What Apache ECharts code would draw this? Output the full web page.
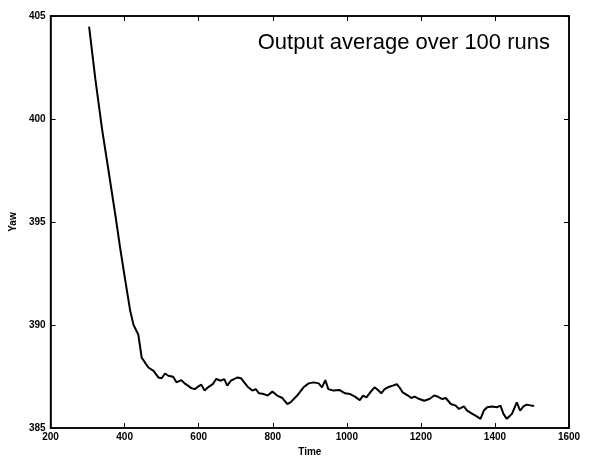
<!DOCTYPE html>
<html>
<head>
<meta charset="utf-8">
<title>Output average over 100 runs</title>
<script src="https://cdn.jsdelivr.net/npm/echarts@6/dist/echarts.min.js"></script>
<style>
  html, body { margin: 0; padding: 0; background: #fff; }
  #main { width: 589px; height: 462px; }
</style>
</head>
<body>
<div id="main"></div>
<script>
// time steps
var times = [304, 321, 339, 357, 375, 388, 402, 415, 424, 437,
  446, 464, 478, 491, 500, 509, 518, 531, 540, 553, 562, 571, 580, 589, 598, 607, 616, 625,
  638, 647, 660, 669, 677, 687, 705, 714, 723, 732, 745, 754, 763, 776, 786, 799, 812, 826,
  839, 848, 866, 883, 897, 910, 924, 933, 942, 950, 964, 980, 995, 1009, 1022, 1035, 1044,
  1053, 1067, 1075, 1084, 1093, 1102, 1111, 1124, 1135, 1142, 1151, 1165, 1174, 1183, 1196,
  1209, 1223, 1236, 1245, 1258, 1267, 1281, 1294, 1303, 1316, 1325, 1339, 1352, 1361, 1370,
  1379, 1392, 1405, 1415, 1423, 1432, 1446, 1459, 1468, 1477, 1486, 1499, 1506];
// yaw output averaged over 100 runs
var yaw = [404.48, 401.92, 399.51, 397.43, 395.33, 393.72, 392.13, 390.69, 390.01, 389.53,
  388.42, 387.94, 387.78, 387.46, 387.42, 387.65, 387.54, 387.49, 387.22, 387.33, 387.17,
  387.06, 386.94, 386.89, 387.01, 387.11, 386.82, 386.98, 387.13, 387.38, 387.30, 387.38,
  387.06, 387.30, 387.46, 387.42, 387.22, 387.01, 386.82, 386.89, 386.69, 386.65, 386.58,
  386.77, 386.58, 386.46, 386.17, 386.25, 386.58, 386.98, 387.17, 387.22, 387.17, 386.98,
  387.33, 386.89, 386.82, 386.85, 386.69, 386.65, 386.53, 386.36, 386.58, 386.49, 386.82,
  386.98, 386.85, 386.69, 386.89, 386.98, 387.06, 387.13, 386.98, 386.73, 386.58, 386.46,
  386.53, 386.41, 386.33, 386.41, 386.58, 386.53, 386.41, 386.46, 386.17, 386.09, 385.93,
  386.05, 385.85, 385.69, 385.56, 385.45, 385.85, 386.01, 386.05, 386.01, 386.09, 385.69,
  385.45, 385.69, 386.25, 385.85, 386.05, 386.14, 386.09, 386.09];
var xTicks = [200, 400, 600, 800, 1000, 1200, 1400, 1600];
var yTicks = [385, 390, 395, 400, 405];

var myChart = echarts.init(document.getElementById('main'));

var pts = [];
for (var i = 0; i < times.length; i++) {
    pts.push([times[i], yaw[i]]);
}

var lblStyle = { color: '#000', fontFamily: 'Liberation Sans, Arial', fontWeight: 'bold', fontSize: 10 };
function plain(v) { return String(v); }

option = {
    animation: false,
    backgroundColor: '#fff',
    title: {
        text: 'Output average over 100 runs',
        right: 34,
        top: 27,
        textStyle: { color: '#000', fontFamily: 'Liberation Sans, Arial', fontWeight: 'normal', fontSize: 22 }
    },
    grid: { left: 49, right: 20, top: 16, bottom: 31, show: true, borderColor: '#000', borderWidth: 1.5 },
    xAxis: [
        {
            type: 'value', min: xTicks[0], max: xTicks[xTicks.length - 1], interval: 200,
            name: 'Time', nameLocation: 'middle', nameGap: 16,
            nameTextStyle: { color: '#000', fontFamily: 'Liberation Sans, Arial', fontWeight: 'bold', fontSize: 10 },
            axisLine: { lineStyle: { color: '#000', width: 1.5 } },
            axisTick: { inside: true, length: 5, lineStyle: { color: '#000' } },
            axisLabel: Object.assign({ margin: 4, formatter: plain }, lblStyle),
            splitLine: { show: false }
        },
        {
            type: 'value', position: 'top', min: xTicks[0], max: xTicks[xTicks.length - 1], interval: 200,
            axisLine: { lineStyle: { color: '#000', width: 1.5 } },
            axisTick: { inside: true, length: 5, lineStyle: { color: '#000' } },
            axisLabel: { show: false },
            splitLine: { show: false }
        }
    ],
    yAxis: [
        {
            type: 'value', min: yTicks[0], max: yTicks[yTicks.length - 1], interval: 5,
            name: 'Yaw', nameLocation: 'middle', nameGap: 32, nameRotate: 90,
            nameTextStyle: { color: '#000', fontFamily: 'Liberation Sans, Arial', fontWeight: 'bold', fontSize: 10 },
            axisLine: { lineStyle: { color: '#000', width: 1.5 } },
            axisTick: { inside: true, length: 5, lineStyle: { color: '#000' } },
            axisLabel: Object.assign({ margin: 5, formatter: plain }, lblStyle),
            splitLine: { show: false }
        },
        {
            type: 'value', position: 'right', min: yTicks[0], max: yTicks[yTicks.length - 1], interval: 5,
            axisLine: { lineStyle: { color: '#000', width: 1.5 } },
            axisTick: { inside: true, length: 5, lineStyle: { color: '#000' } },
            axisLabel: { show: false },
            splitLine: { show: false }
        }
    ],
    series: [
        {
            name: 'Yaw',
            type: 'line',
            data: pts,
            showSymbol: false,
            lineStyle: { color: '#000', width: 2 }
        }
    ]
};

myChart.setOption(option);
</script>
</body>
</html>
